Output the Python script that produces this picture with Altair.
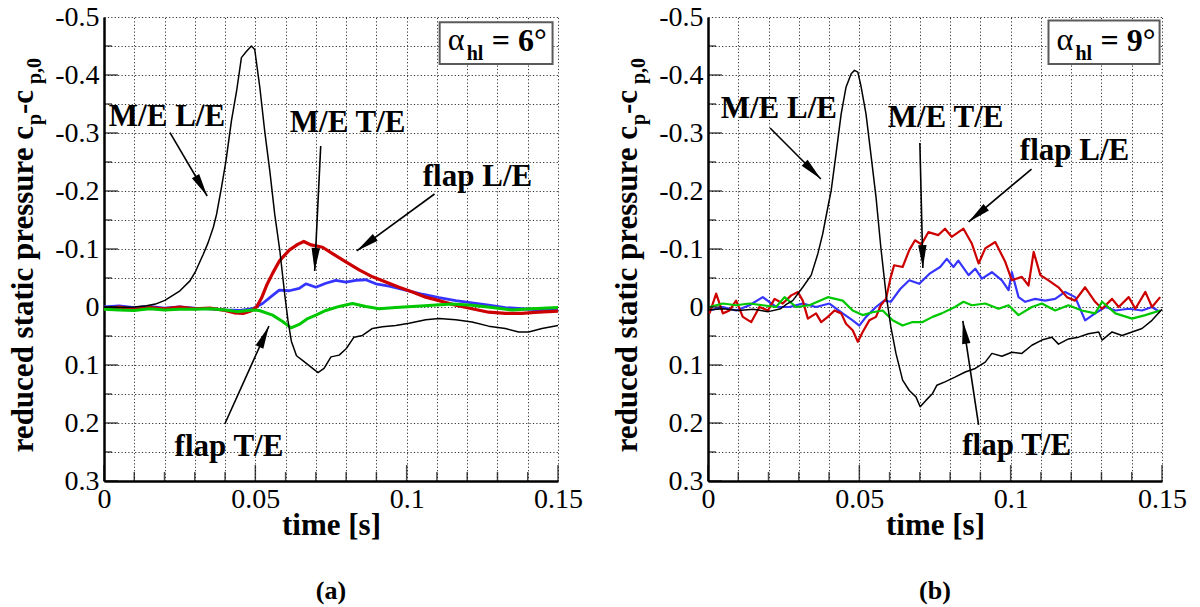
import math
import altair as alt
import pandas as pd

# ---------------- panel (a): alpha_hl = 6 deg ----------------
A_MLE_T = [0, 0.005, 0.01, 0.014, 0.017, 0.0201, 0.0251, 0.0284, 0.0303, 0.0328, 0.0344, 0.0361, 0.0372, 0.0388,
           0.0403, 0.0421, 0.0438, 0.0454, 0.0471, 0.0487, 0.0498, 0.0515, 0.0531, 0.0548, 0.0564, 0.0581, 0.0597,
           0.0608, 0.0619, 0.0636, 0.0658, 0.068, 0.0707, 0.0727, 0.075, 0.0777, 0.08, 0.0826, 0.0854, 0.0887, 0.092,
           0.0964, 0.1008, 0.1063, 0.1107, 0.1162, 0.1216, 0.1271, 0.1326, 0.137, 0.1403, 0.1447, 0.15]
A_MLE_V = [0.0, 0.001, 0.0, -0.002, -0.005, -0.0115, -0.028, -0.045, -0.062, -0.091, -0.111, -0.137, -0.16, -0.206,
           -0.252, -0.321, -0.372, -0.43, -0.441, -0.45, -0.444, -0.378, -0.303, -0.234, -0.16, -0.097, -0.022,
           0.024, 0.059, 0.084, 0.093, 0.102, 0.113, 0.106, 0.086, 0.083, 0.072, 0.052, 0.049, 0.037, 0.034,
           0.032, 0.028, 0.022, 0.02, 0.022, 0.026, 0.033, 0.037, 0.043, 0.043, 0.037, 0.032]

A_FLE_T = [0, 0.005, 0.01, 0.015, 0.02, 0.025, 0.03, 0.035, 0.04, 0.043, 0.046, 0.0485, 0.0504, 0.052, 0.0537,
           0.0557, 0.0579, 0.0612, 0.064, 0.066, 0.0684, 0.0722, 0.0755, 0.0799, 0.0843, 0.0887, 0.0931, 0.0975,
           0.1019, 0.1063, 0.1107, 0.1162, 0.1216, 0.1271, 0.1326, 0.138, 0.1436, 0.15]
A_FLE_V = [0.003, 0.0, 0.004, 0.001, 0.003, 0.0, 0.003, 0.002, 0.006, 0.01, 0.011, 0.007, 0.0, -0.015, -0.037,
           -0.058, -0.079, -0.098, -0.108, -0.113, -0.107, -0.103, -0.092, -0.078, -0.064, -0.052, -0.043, -0.034,
           -0.026, -0.017, -0.011, -0.003, 0.003, 0.009, 0.011, 0.011, 0.009, 0.007]

A_MTE_T = [0, 0.005, 0.01, 0.015, 0.02, 0.025, 0.03, 0.035, 0.04, 0.045, 0.0491, 0.0524, 0.0557, 0.0579, 0.0612,
           0.0645, 0.0667, 0.07, 0.0733, 0.0766, 0.0799, 0.0832, 0.0865, 0.0898, 0.0942, 0.0997, 0.1052, 0.1107,
           0.1162, 0.1216, 0.1271, 0.1326, 0.138, 0.1436, 0.15]
A_MTE_V = [0.0, -0.002, 0.001, -0.001, 0.002, 0.0, 0.002, 0.003, 0.005, 0.006, 0.003, -0.006, -0.02, -0.029, -0.028,
           -0.032, -0.04, -0.034, -0.041, -0.046, -0.043, -0.046, -0.047, -0.04, -0.036, -0.029, -0.022, -0.016,
           -0.011, -0.007, -0.003, 0.001, 0.003, 0.005, 0.006]

A_FTE_T = [0, 0.005, 0.01, 0.015, 0.02, 0.025, 0.03, 0.035, 0.04, 0.044, 0.0491, 0.0513, 0.0557, 0.059, 0.0618,
           0.0645, 0.0673, 0.07, 0.0733, 0.0777, 0.0821, 0.0865, 0.0909, 0.0964, 0.1019, 0.1085, 0.1151, 0.1216,
           0.1282, 0.1348, 0.1414, 0.15]
A_FTE_V = [0.004, 0.005, 0.006, 0.003, 0.005, 0.004, 0.004, 0.003, 0.005, 0.008, 0.005, 0.006, 0.014, 0.025, 0.036,
           0.03, 0.02, 0.014, 0.006, -0.001, -0.006, -0.001, 0.003, 0.001, -0.001, -0.003, -0.005, -0.003, 0.001,
           0.005, 0.003, 0.001]

# ---------------- panel (b): alpha_hl = 9 deg ----------------
B_MLE_T = [0, 0.005, 0.01, 0.015, 0.02, 0.024, 0.026, 0.028, 0.0313, 0.0341, 0.0363, 0.0379, 0.0396, 0.0407, 0.0423,
           0.044, 0.0456, 0.0473, 0.0484, 0.0495, 0.0505, 0.0522, 0.0538, 0.0555, 0.0571, 0.0588, 0.0604, 0.0621,
           0.0643, 0.0665, 0.0687, 0.0701, 0.072, 0.0742, 0.0756, 0.0783, 0.0816, 0.085, 0.0883, 0.0916, 0.0938,
           0.0971, 0.1004, 0.1037, 0.107, 0.1103, 0.1136, 0.1158, 0.1191, 0.1224, 0.1257, 0.1291, 0.1302, 0.1335,
           0.1368, 0.1401, 0.1434, 0.1467, 0.15]
B_MLE_V = [0.005, 0.003, 0.006, 0.004, 0.008, 0.003, -0.005, -0.011, -0.034, -0.055, -0.092, -0.126, -0.172, -0.201,
           -0.264, -0.333, -0.379, -0.402, -0.408, -0.405, -0.382, -0.333, -0.264, -0.19, -0.103, -0.023, 0.034,
           0.08, 0.126, 0.144, 0.155, 0.172, 0.161, 0.149, 0.135, 0.129, 0.121, 0.112, 0.106, 0.095, 0.08, 0.085,
           0.078, 0.08, 0.066, 0.057, 0.052, 0.064, 0.055, 0.052, 0.046, 0.043, 0.057, 0.043, 0.049, 0.043, 0.037,
           0.023, 0.004]

B_FLE_T = [0.0005, 0.0027, 0.0049, 0.0071, 0.0093, 0.0115, 0.0143, 0.017, 0.0198, 0.022, 0.0247, 0.0275, 0.0297,
           0.0313, 0.033, 0.0357, 0.0374, 0.0396, 0.0418, 0.044, 0.0456, 0.0478, 0.0495, 0.0511, 0.0533, 0.0555,
           0.0571, 0.0588, 0.0604, 0.0615, 0.0643, 0.0665, 0.0684, 0.0705, 0.0728, 0.0761, 0.0783, 0.0805, 0.0844,
           0.0872, 0.0894, 0.0916, 0.0949, 0.0982, 0.1004, 0.1037, 0.1059, 0.1076, 0.1098, 0.1125, 0.1158, 0.1186,
           0.1213, 0.1246, 0.1279, 0.1302, 0.1335, 0.1357, 0.139, 0.1412, 0.1445, 0.1467, 0.1494]
B_FLE_V = [0.011, -0.023, 0.011, 0.006, -0.011, 0.017, 0.026, 0.0, 0.006, -0.014, -0.006, -0.02, -0.026, -0.011,
           0.02, 0.011, 0.026, 0.017, 0.006, 0.011, 0.029, 0.04, 0.06, 0.043, 0.023, 0.017, -0.003, -0.014, -0.052,
           -0.072, -0.069, -0.098, -0.115, -0.108, -0.129, -0.124, -0.135, -0.121, -0.135, -0.109, -0.075, -0.101,
           -0.112, -0.078, -0.046, -0.052, -0.037, -0.095, -0.055, -0.046, -0.034, -0.017, -0.011, -0.034, -0.009,
           0.003, -0.014, 0.0, -0.017, 0.003, -0.026, 0.0, -0.017]

B_MTE_T = [0.0005, 0.0049, 0.0093, 0.0137, 0.0181, 0.0225, 0.0269, 0.0313, 0.0357, 0.0401, 0.0445, 0.0478, 0.05,
           0.0522, 0.0555, 0.0582, 0.0604, 0.0635, 0.0665, 0.0698, 0.0731, 0.0767, 0.0789, 0.0811, 0.0827, 0.0861,
           0.0883, 0.0905, 0.0938, 0.0971, 0.0993, 0.1004, 0.1026, 0.1048, 0.1081, 0.1114, 0.1147, 0.118, 0.1213,
           0.1246, 0.1279, 0.1313, 0.1346, 0.139, 0.1434, 0.1467, 0.1494]
B_MTE_V = [0.006, 0.0, 0.006, -0.003, -0.017, 0.0, 0.0, -0.006, 0.0, -0.006, 0.011, 0.023, 0.032, 0.017, 0.0,
           -0.011, -0.009, -0.031, -0.046, -0.04, -0.057, -0.069, -0.083, -0.069, -0.08, -0.055, -0.066, -0.049,
           -0.06, -0.046, -0.029, -0.06, -0.017, -0.009, -0.014, -0.011, -0.014, -0.026, -0.017, 0.023, 0.011, 0.0,
           0.006, 0.003, 0.006, 0.0, 0.009]

B_FTE_T = [0.0005, 0.0049, 0.0093, 0.0137, 0.0181, 0.0225, 0.0253, 0.0291, 0.0335, 0.0396, 0.0445, 0.0478, 0.0511,
           0.0544, 0.0577, 0.061, 0.0643, 0.0676, 0.0709, 0.0742, 0.0772, 0.0816, 0.0844, 0.0872, 0.0916, 0.096,
           0.0993, 0.1026, 0.107, 0.1103, 0.1147, 0.1191, 0.1235, 0.1279, 0.1302, 0.1346, 0.1401, 0.1445, 0.1494]
B_FTE_V = [0.0, -0.006, -0.003, -0.006, -0.003, 0.0, -0.017, 0.0, -0.003, -0.017, -0.011, 0.006, 0.014, 0.009, 0.006,
           0.023, 0.032, 0.026, 0.026, 0.017, 0.011, 0.0, -0.009, -0.003, -0.006, 0.003, -0.003, 0.014, 0.0, -0.006,
           0.006, -0.003, 0.006, 0.011, -0.009, 0.011, 0.02, 0.014, 0.006]

# ---------------- annotations ----------------
ANN_LABELS = ["M/E L/E", "M/E T/E", "flap L/E", "flap T/E"]
A_TXT_X = [0.0208, 0.0805, 0.1234, 0.0413]
A_TXT_Y = [-0.3276, -0.3172, -0.2241, 0.2414]
A_ARR_X1 = [0.0218, 0.0716, 0.1092, 0.0399]
A_ARR_Y1 = [-0.3005, -0.2776, -0.1948, 0.2017]
A_ARR_X2 = [0.0341, 0.0696, 0.0835, 0.0545]
A_ARR_Y2 = [-0.1914, -0.0621, -0.0966, 0.0328]

B_TXT_X = [0.0234, 0.0785, 0.1211, 0.102]
B_TXT_Y = [-0.3414, -0.3259, -0.269, 0.2397]
B_ARR_X1 = [0.0205, 0.07, 0.1069, 0.0894]
B_ARR_Y1 = [-0.3086, -0.2828, -0.2379, 0.2034]
B_ARR_X2 = [0.0373, 0.071, 0.0861, 0.0842]
B_ARR_Y2 = [-0.2207, -0.0672, -0.1466, 0.0241]

A_BOX = [0.1109, 0.1482, -0.491, -0.419]
B_BOX = [0.1125, 0.1492, -0.494, -0.419]
A_ALPHA = "= 6°"
B_ALPHA = "= 9°"

X_GRID = [round(i * 0.01, 2) for i in range(16)]
Y_GRID = [round(-0.5 + i * 0.05, 2) for i in range(17)]
X_MAJOR = [0.0, 0.05, 0.1, 0.15]
X_MINOR = [v for v in X_GRID if v not in X_MAJOR]
Y_MAJOR = [-0.4, -0.3, -0.2, -0.1, 0.0, 0.1, 0.2, 0.3]
Y_MINOR = [-0.45, -0.35, -0.25, -0.15, -0.05, 0.05, 0.15, 0.25]

COLORS = {"black": "#000000", "red": "#cc0000", "blue": "#3535ff", "green": "#00c800"}

W, H = 454, 464
FONT = "Liberation Serif"

X_AXIS = alt.Axis(values=X_GRID, grid=True, gridDash=[1.2, 2.2], gridColor="#333333", gridWidth=1,
                  ticks=False, domain=True, domainColor="black", domainWidth=2.5,
                  labelExpr="abs(datum.value*20 - round(datum.value*20)) < 0.001 ? format(datum.value, '~g') : ''",
                  labelFont=FONT, labelFontSize=28, labelColor="black", labelPadding=4,
                  labelFlush=False, labelOverlap=False,
                  title="time [s]", titleFont=FONT, titleFontSize=31, titleFontWeight="bold",
                  titleColor="black", titlePadding=-3)
Y_AXIS = alt.Axis(values=Y_GRID, grid=True, gridDash=[1.2, 2.2], gridColor="#333333", gridWidth=1,
                  ticks=False, domain=True, domainColor="black", domainWidth=2.5,
                  labelExpr="abs(datum.value*10 - round(datum.value*10)) < 0.001 ? "
                            "(datum.value < -0.001 ? '-' : '') + format(abs(datum.value), '~g') : ''",
                  labelFont=FONT, labelFontSize=28, labelColor="black", labelPadding=5,
                  labelFlush=False, labelOverlap=False, title=None)
X_SCALE = alt.Scale(domain=[0, 0.15], nice=False, zero=False)
Y_SCALE = alt.Scale(domain=[-0.5, 0.3], reverse=True, nice=False, zero=False)


def X(field):
    return alt.X(field, scale=X_SCALE, axis=X_AXIS)


def Y(field):
    return alt.Y(field, scale=Y_SCALE, axis=Y_AXIS)


def panel(series, txt_x, txt_y, ax1, ay1, ax2, ay2, box, alpha_txt, tag):
    layers = []
    for t, v, col, sw in series:
        df = pd.DataFrame({"t": t, "v": v})
        layers.append(alt.Chart(df).mark_line(color=col, strokeWidth=sw, strokeJoin="round").encode(
            x=X("t:Q"), y=Y("v:Q")))

    # inward ticks
    for vals, size in [(X_MAJOR, 16), (X_MINOR, 9)]:
        layers.append(alt.Chart(pd.DataFrame({"x": vals})).mark_tick(
            orient="vertical", size=size, thickness=1.5, color="black", yOffset=-size / 2).encode(
            x=X("x:Q"), y=alt.YDatum(0.3, scale=Y_SCALE, axis=Y_AXIS)))
    for vals, size in [(Y_MAJOR, 14), (Y_MINOR, 8)]:
        layers.append(alt.Chart(pd.DataFrame({"y": vals})).mark_tick(
            orient="horizontal", size=size, thickness=1.5, color="black", xOffset=size / 2).encode(
            y=Y("y:Q"), x=alt.XDatum(0, scale=X_SCALE, axis=X_AXIS)))

    # arrows
    pxx, pxy = W / 0.15, H / 0.8
    angles = [math.degrees(math.atan2((x2 - x1) * pxx, -(y2 - y1) * pxy)) % 360
              for x1, y1, x2, y2 in zip(ax1, ay1, ax2, ay2)]
    adf = pd.DataFrame({"x1": ax1, "y1": ay1, "x2": ax2, "y2": ay2, "ang": angles})
    layers.append(alt.Chart(adf).mark_rule(color="black", strokeWidth=1.6).encode(
        x=X("x1:Q"), y=Y("y1:Q"), x2="x2:Q", y2="y2:Q"))
    layers.append(alt.Chart(adf).mark_point(
        shape="M0,0L-0.42,2.3L0.42,2.3Z", size=400, filled=True, color="black", opacity=1).encode(
        x=X("x2:Q"), y=Y("y2:Q"), angle=alt.Angle("ang:Q", scale=None)))

    # labels
    tdf = pd.DataFrame({"x": txt_x, "y": txt_y, "label": ANN_LABELS})
    layers.append(alt.Chart(tdf).mark_text(font=FONT, fontSize=31, fontWeight="bold", color="black",
                                           align="center", baseline="middle").encode(
        x=X("x:Q"), y=Y("y:Q"), text="label:N"))

    # alpha box
    bdf = pd.DataFrame({"x": [box[0]], "x2": [box[1]], "y": [box[2]], "y2": [box[3]]})
    layers.append(alt.Chart(bdf).mark_rect(fill="white", stroke="#5a5a5a", strokeWidth=2).encode(
        x=X("x:Q"), x2="x2:Q", y=Y("y:Q"), y2="y2:Q"))
    adf2 = pd.DataFrame({"x": [box[0]], "y": [box[3]]})
    for txt, size, weight, dx, dy in [("α", 32, "normal", 8, -14), ("hl", 20, "bold", 27, -4),
                                      (alpha_txt, 32, "bold", 52, -13)]:
        layers.append(alt.Chart(adf2).mark_text(text=txt, font=FONT, fontSize=size, fontWeight=weight,
                                                color="black", align="left", baseline="alphabetic",
                                                dx=dx, dy=dy).encode(x=X("x:Q"), y=Y("y:Q")))

    # y title (rotated, with subscripts)
    for txt, size, align, dx, dy in [("reduced static pressure c", 31, "right", 0, 0),
                                     ("p", 20, "left", 1, 8),
                                     (" -c", 31, "left", 12, 0),
                                     ("p,0", 20, "left", 42, 8)]:
        layers.append(alt.Chart(adf2).mark_text(text=txt, font=FONT, fontSize=size, fontWeight="bold",
                                                color="black", align=align, baseline="alphabetic",
                                                angle=270, dx=dx, dy=dy).encode(
            x=alt.value(-71), y=alt.value(109)))

    return alt.layer(*layers).properties(
        width=W, height=H,
        title=alt.TitleParams(tag, orient="bottom", font=FONT, fontSize=26, fontWeight="bold",
                              color="black", anchor="middle", offset=38))


pa = panel([(A_MTE_T, A_MTE_V, COLORS["blue"], 2.8), (A_FLE_T, A_FLE_V, COLORS["red"], 3.2),
            (A_FTE_T, A_FTE_V, COLORS["green"], 3.0), (A_MLE_T, A_MLE_V, COLORS["black"], 1.5)],
           A_TXT_X, A_TXT_Y, A_ARR_X1, A_ARR_Y1, A_ARR_X2, A_ARR_Y2, A_BOX, A_ALPHA, "(a)")
pb = panel([(B_MTE_T, B_MTE_V, COLORS["blue"], 2.2), (B_FLE_T, B_FLE_V, COLORS["red"], 2.2),
            (B_FTE_T, B_FTE_V, COLORS["green"], 2.2), (B_MLE_T, B_MLE_V, COLORS["black"], 1.5)],
           B_TXT_X, B_TXT_Y, B_ARR_X1, B_ARR_Y1, B_ARR_X2, B_ARR_Y2, B_BOX, B_ALPHA, "(b)")

chart = alt.hconcat(pa, pb, spacing=150, bounds="flush").properties(
    padding={"left": 8, "top": 3, "right": 5, "bottom": 5},
    background="white",
).configure_view(stroke=None)

chart.save("out.html", embed_options={"renderer": "svg", "actions": False})
